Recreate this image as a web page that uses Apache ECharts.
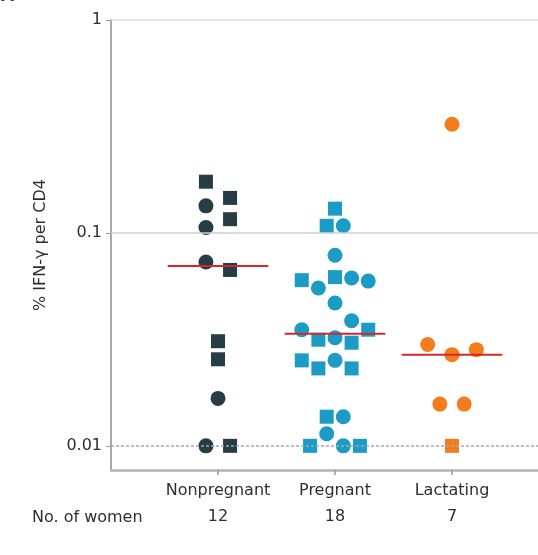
<!DOCTYPE html>
<html>
<head>
<meta charset="utf-8">
<script src="https://cdn.jsdelivr.net/npm/echarts@6/dist/echarts.min.js"></script>
<style>
  html, body { margin: 0; padding: 0; background: #fff; }
  #chart { width: 538px; height: 555px; }
</style>
</head>
<body>
<div id="chart"></div>
<script>
// Groups and sample sizes shown under the axis
const groups = ['Nonpregnant', 'Pregnant', 'Lactating'];
const womenCounts = [12, 18, 7];

// Y tick values and their labels
const yTickValues = [0.01, 0.1, 1];
const yTickLabels = ['0.01', '0.1', '1'];

// % IFN-γ per CD4 per sample; column = swarm column within the group, shape: s = square, c = circle
const nonpregnantValues  = [0.174, 0.146, 0.134, 0.116, 0.106, 0.073, 0.067, 0.031, 0.0255, 0.0167, 0.01, 0.01];
const nonpregnantColumns = [-1, 1, -1, 1, -1, -1, 1, 0, 0, 0, -1, 1];
const nonpregnantShapes  = ['s', 's', 'c', 's', 'c', 'c', 's', 's', 's', 'c', 'c', 's'];

const pregnantValues  = [0.130, 0.108, 0.108, 0.0785, 0.062, 0.0614, 0.060, 0.0594, 0.0551, 0.0469, 0.0387,
                         0.0351, 0.0351, 0.0322, 0.0315, 0.0305, 0.0252, 0.0252, 0.0231, 0.0231,
                         0.0137, 0.0137, 0.0114, 0.01, 0.01, 0.01];
const pregnantColumns = [0, -1, 1, 0, 0, 2, -4, 4, -2, 0, 2,
                         -4, 4, 0, -2, 2, -4, 0, -2, 2,
                         -1, 1, -1, -3, 1, 3];
const pregnantShapes  = ['s', 's', 'c', 'c', 's', 'c', 's', 'c', 'c', 'c', 'c',
                         'c', 's', 'c', 's', 's', 's', 'c', 's', 's',
                         's', 'c', 'c', 's', 'c', 's'];

const lactatingValues  = [0.324, 0.0299, 0.0283, 0.0268, 0.0157, 0.0157, 0.01];
const lactatingColumns = [0, -2, 2, 0, -1, 1, 0];
const lactatingShapes  = ['c', 'c', 'c', 'c', 'c', 'c', 's'];

const groupValues  = [nonpregnantValues, pregnantValues, lactatingValues];
const groupColumns = [nonpregnantColumns, pregnantColumns, lactatingColumns];
const groupShapes  = [nonpregnantShapes, pregnantShapes, lactatingShapes];

const groupColors = ['#263d45', '#1b9bc6', '#f47c1c'];
const columnStep  = [0.103, 0.071, 0.104];
const medianHalfWidth = 0.43;
const textColor = '#2f2f2f';
const FONT = 'DejaVu Sans';

function median(arr) {
  const s = arr.slice().sort((a, b) => a - b);
  const m = Math.floor(s.length / 2);
  return s.length % 2 ? s[m] : (s[m - 1] + s[m]) / 2;
}

const series = [];
groups.forEach((name, g) => {
  const pos = g + 1;
  series.push({
    name: name,
    type: 'scatter',
    z: 3,
    symbol: (val) => (val[2] === 's' ? 'rect' : 'circle'),
    symbolSize: (val) => (val[2] === 's' ? 14 : 15),
    itemStyle: { color: groupColors[g], opacity: 1 },
    data: groupValues[g].map((v, i) => [pos + groupColumns[g][i] * columnStep[g], v, groupShapes[g][i]])
  });
  const med = median(groupValues[g]);
  series.push({
    name: name + ' median',
    type: 'line',
    z: 4,
    symbol: 'none',
    silent: true,
    lineStyle: { color: '#d6262b', width: 2 },
    data: [[pos - medianHalfWidth, med], [pos + medianHalfWidth, med]]
  });
});

// Reference lines at 1, 0.1 (solid) and 0.01 (dashed)
series.push({
  type: 'line',
  data: [],
  z: 1,
  markLine: {
    silent: true,
    symbol: 'none',
    label: { show: false },
    data: [
      { yAxis: 1, lineStyle: { color: '#dcdcdc', width: 1.5, type: 'solid' } },
      { yAxis: 0.1, lineStyle: { color: '#cfcfcf', width: 1.5, type: 'solid' } },
      { yAxis: 0.01, lineStyle: { color: '#a8a8a8', width: 1.5, type: [3, 2] } }
    ]
  }
});

const chart = echarts.init(document.getElementById('chart'), null, { renderer: 'canvas' });
chart.setOption({
  animation: false,
  backgroundColor: '#ffffff',
  grid: { left: 111, right: 0, top: 20, bottom: 85, containLabel: false },
  xAxis: [
    {
      type: 'value',
      min: 0.0855,
      max: 3.735,
      position: 'bottom',
      axisLine: { show: true, lineStyle: { color: '#b4b4b4', width: 2.5 } },
      axisTick: { show: true, customValues: [1, 2, 3], length: 5, lineStyle: { color: '#9a9a9a', width: 1.5 } },
      axisLabel: {
        customValues: [1, 2, 3],
        formatter: (v) => groups[Math.round(v) - 1],
        fontFamily: FONT, fontSize: 16, color: textColor, margin: 13
      },
      splitLine: { show: false }
    },
    {
      type: 'value',
      min: 0.0855,
      max: 3.735,
      position: 'bottom',
      offset: 26,
      axisLine: { show: false },
      axisTick: { show: false },
      axisLabel: {
        customValues: [1, 2, 3],
        formatter: (v) => String(womenCounts[Math.round(v) - 1]),
        fontFamily: FONT, fontSize: 16, color: textColor, margin: 13
      },
      splitLine: { show: false }
    }
  ],
  yAxis: {
    type: 'log',
    logBase: 10,
    min: 0.0077,
    max: 1,
    name: '% IFN-γ per CD4',
    nameLocation: 'middle',
    nameGap: 62,
    nameTextStyle: { fontFamily: FONT, fontSize: 16, color: textColor },
    axisLine: { show: true, lineStyle: { color: '#a8a8a8', width: 2 } },
    axisTick: { show: true, customValues: yTickValues, length: 5, lineStyle: { color: '#999' } },
    axisLabel: {
      customValues: yTickValues,
      formatter: (v) => {
        let best = 0;
        yTickValues.forEach((t, i) => { if (Math.abs(Math.log10(v) - Math.log10(t)) < Math.abs(Math.log10(v) - Math.log10(yTickValues[best]))) best = i; });
        return yTickLabels[best];
      },
      fontFamily: FONT, fontSize: 16, color: textColor, margin: 9
    },
    splitLine: { show: false }
  },
  graphic: [
    {
      type: 'text', left: 32, top: 510,
      style: { text: 'No. of women', font: '16px "DejaVu Sans"', fill: textColor }
    },
    {
      type: 'text', left: 1, top: -12,
      style: { text: 'A', font: 'bold 17px "DejaVu Sans"', fill: '#444' }
    }
  ],
  series: series
});
</script>
</body>
</html>
